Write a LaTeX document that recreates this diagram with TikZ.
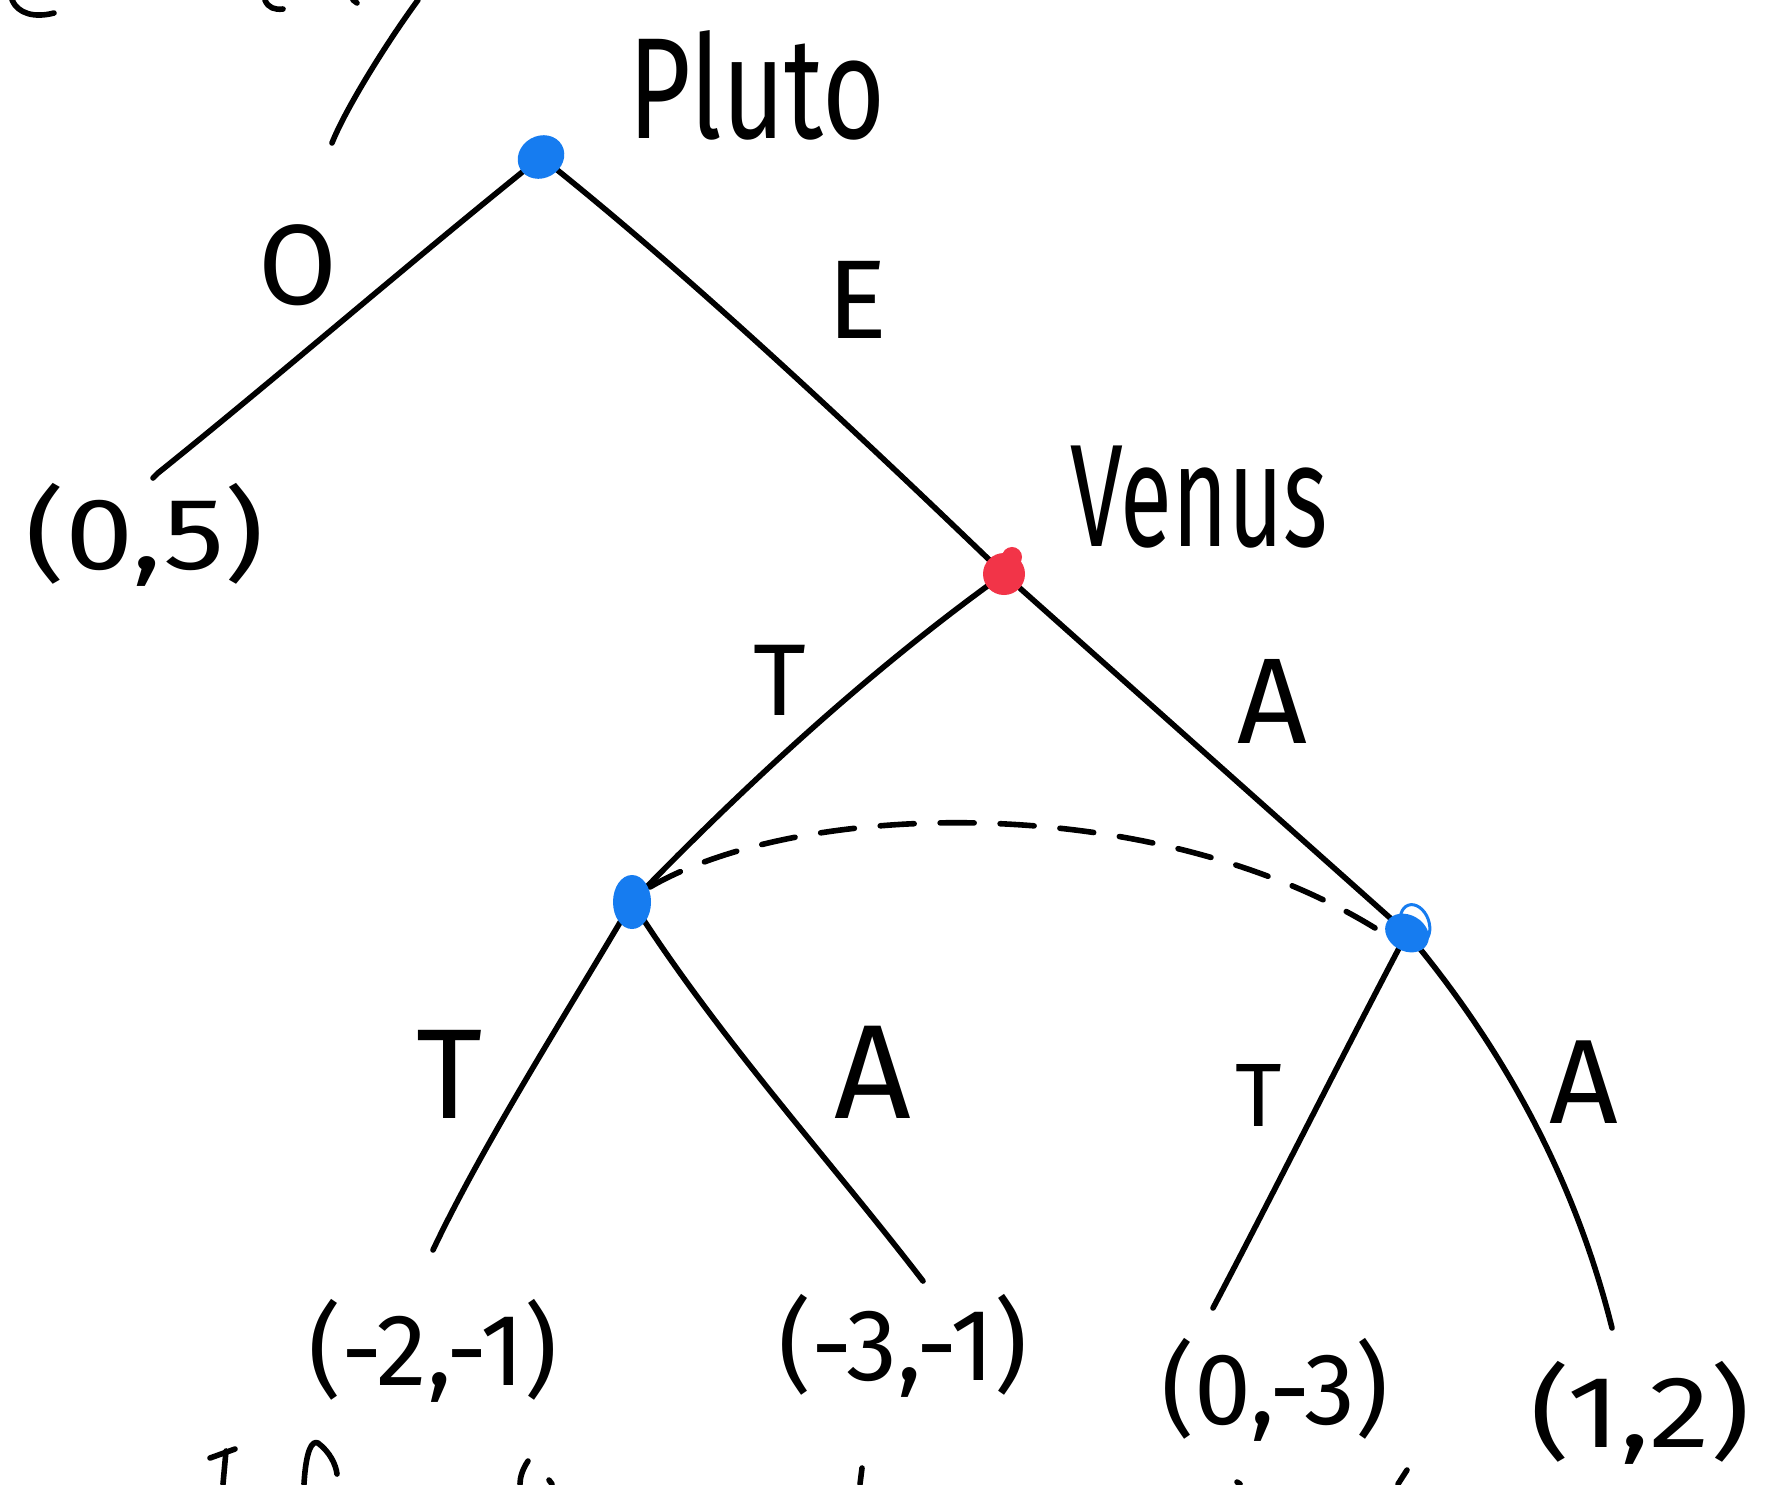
\documentclass[tikz,border=0pt]{standalone}
\usepackage{fontspec}
\setmainfont{Fira Sans}
\usetikzlibrary{calc}
\definecolor{dotblue}{RGB}{22,124,240}
\definecolor{dotred}{RGB}{242,52,72}
\tikzset{
  edge/.style={line width=2.8pt, line cap=round, line join=round},
  infoset/.style={line width=2.8pt, line cap=round, dash pattern=on 17pt off 13pt},
  lab/.style={inner sep=0pt, anchor=base},
  bdot/.style={fill=dotblue, draw=dotblue, line width=1pt},
  rdot/.style={fill=dotred, draw=dotred, line width=1pt},
}
\newcommand{\hw}[3]{\fontsize{#1}{#1}\selectfont\scalebox{#2}[1]{#3}}
\begin{document}
\begin{tikzpicture}[x=0.5pt,y=-0.5pt]
\useasboundingbox (0,0) rectangle (1765,1484);
\fill[white] (0,0) rectangle (1765,1484);

% decision nodes and leaves
\coordinate (root) at (541,157);
\coordinate (venus) at (1004,574);
\coordinate (n1) at (632,902);
\coordinate (n2) at (1407,933);
\coordinate (l0) at (158,473);
\coordinate (l1) at (433,1250);
\coordinate (l2) at (923,1281);
\coordinate (l3) at (1213,1308);
\coordinate (l4) at (1612,1328);

% edges
\draw[edge] (root) .. controls (410,262) and (280,375) .. (l0) -- ++(-5,5);
\draw[edge] (root) .. controls (690,275) and (870,445) .. (venus);
\draw[edge] (venus) .. controls (870,670) and (745,785) .. (n1);
\draw[edge] (venus) -- (n2);
\draw[edge] (n1) .. controls (575,1000) and (485,1140) .. (l1);
\draw[edge] (n1) .. controls (720,1040) and (830,1160) .. (l2);
\draw[edge] (n2) .. controls (1340,1060) and (1270,1200) .. (l3);
\draw[edge] (n2) .. controls (1505,1050) and (1575,1180) .. (l4);

% information set
\draw[infoset] ($(n1)+(18,-15)$) .. controls (800,800) and (1150,790) .. ($(n2)+(-32,-5)$);

% dots
\fill[bdot, rotate around={30:(root)}] (root) ellipse [x radius=23, y radius=20];
\fill[rdot] (venus) circle (20);
\fill[rdot] (1012,557) circle (9);
\fill[bdot] (n1) ellipse [x radius=18, y radius=26];
\fill[bdot, rotate around={-30:(n2)}] (n2) ellipse [x radius=22, y radius=17];
\draw[dotblue, line width=1.5pt, rotate around={20:(1415,924)}] (1415,924) ellipse [x radius=14, y radius=20];

% labels
\node[lab] (tp) at (757,138) {\hw{72}{0.75}{Pluto}};
\node[lab] (tv) at (1199,546) {\hw{73}{0.65}{Venus}};
\node[lab] (e0) at (298,304) {\hw{57}{1.0}{O}};
\node[lab] (e1) at (857,338) {\hw{56}{1.0}{E}};
\node[lab] (e2) at (780,715) {\hw{51}{1.0}{T}};
\node[lab] (e3) at (1272,743) {\hw{61}{1.0}{A}};
\node[lab] (e4) at (450,1118) {\hw{64}{1.0}{T}};
\node[lab] (e5) at (873,1118) {\hw{67}{1.0}{A}};
\node[lab] (e6) at (1259,1126) {\hw{45}{1.0}{T}};
\node[lab] (e7) at (1584,1123) {\hw{60}{1.0}{A}};

\node[lab] (p0) at (145,569) {\hw{51}{1.2}{(0,5)}};
\node[lab] (p1) at (433,1385) {\hw{51}{1.0}{(-2,-1)}};
\node[lab] (p2) at (903,1380) {\hw{51}{1.0}{(-3,-1)}};
\node[lab] (p3) at (1275,1424) {\hw{51}{1.0}{(0,-3)}};
\node[lab] (p4) at (1640,1447) {\hw{51}{1.2}{(1,2)}};

% cut-off strokes at the top
\draw[edge] (12,0) .. controls (18,14) and (35,18) .. (54,13);
\draw[edge] (265,0) .. controls (268,8) and (275,10) .. (283,9);
\draw[edge] (353,0) -- (357,3);
\draw[edge] (418,0) .. controls (385,45) and (345,110) .. (332,143);

% cut-off strokes at the bottom
\draw[edge] (210,1458) -- (235,1449);
\draw[edge] (226,1451) -- (223,1484);
\draw[edge] (304,1484) .. controls (306,1450) and (312,1440) .. (318,1443) .. controls (330,1452) and (336,1465) .. (337,1474);
\draw[edge] (528,1461) .. controls (522,1470) and (520,1478) .. (520,1484);
\draw[edge] (549,1480) -- (552,1484);
\draw[edge] (862,1468) -- (860,1484);
\draw[edge] (1237,1482) -- (1240,1484);
\draw[edge] (1407,1470) -- (1398,1484);
\end{tikzpicture}
\end{document}
